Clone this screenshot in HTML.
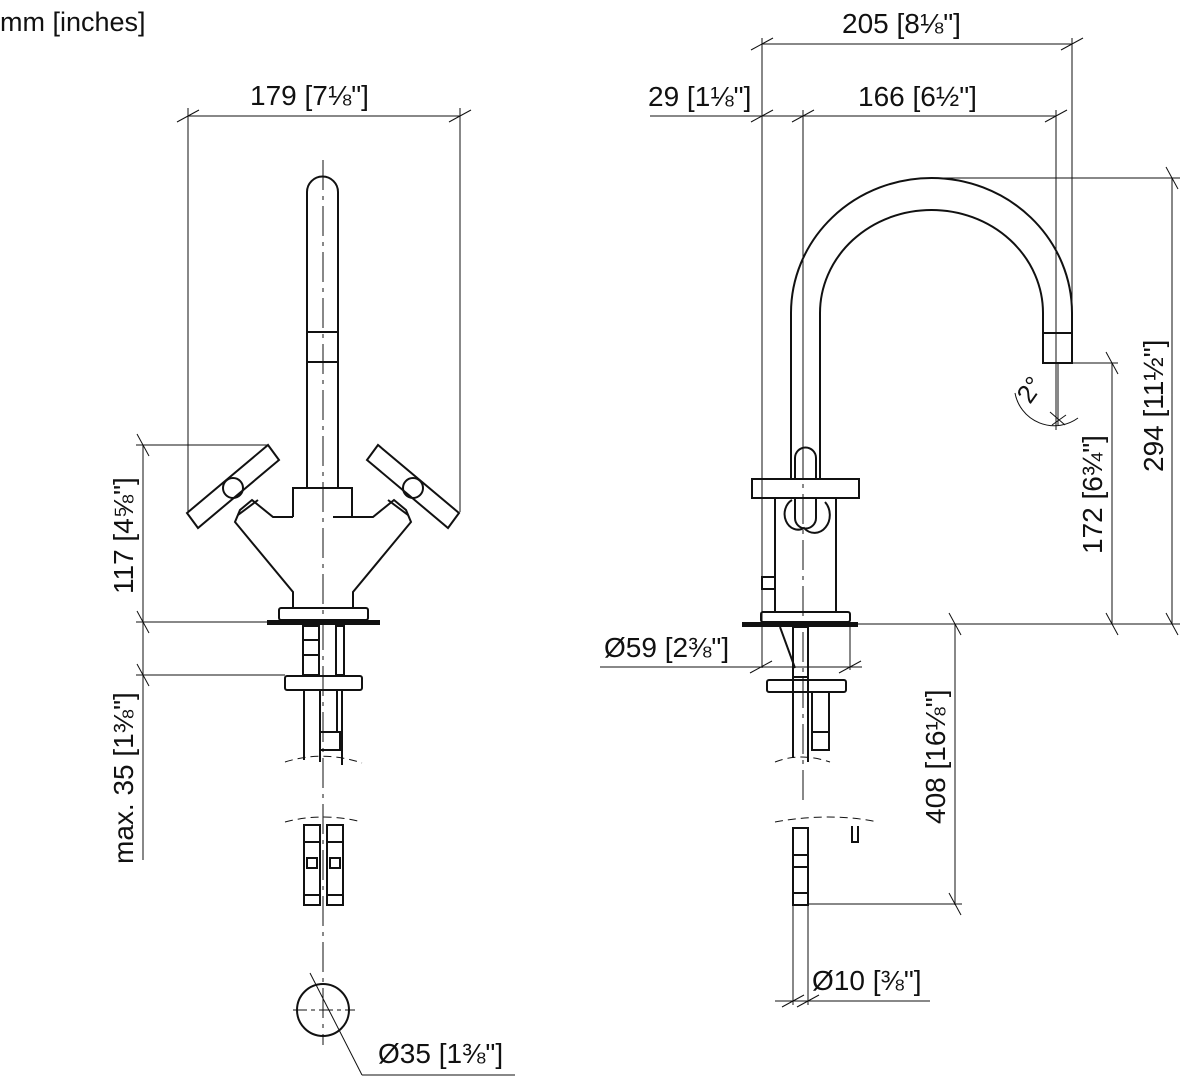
<!DOCTYPE html>
<html><head><meta charset="utf-8"><style>
html,body{margin:0;padding:0;background:#fff}
svg{display:block}
text{font-family:"Liberation Sans",sans-serif;fill:#111}
.n{font-size:28px}
</style></head><body>
<svg width="1183" height="1080" viewBox="0 0 1183 1080" xmlns="http://www.w3.org/2000/svg">
<defs>
<g id="tk"><line x1="-11" y1="6" x2="11" y2="-6" stroke="#111" stroke-width="1"/></g>
</defs>
<text x="0" y="31" style="font-size:27px">mm [inches]</text>

<g fill="none" stroke="#111" stroke-width="1">
<line x1="188" y1="116" x2="460" y2="116"/>
<line x1="188" y1="108" x2="188" y2="512"/>
<line x1="460" y1="108" x2="460" y2="512"/>
<use href="#tk" x="188" y="116"/><use href="#tk" x="460" y="116"/>
<line x1="143" y1="445" x2="143" y2="860"/>
<line x1="136" y1="445" x2="268" y2="445"/>
<line x1="136" y1="622" x2="268" y2="622"/>
<line x1="136" y1="675" x2="285" y2="675"/>
<g transform="rotate(90 143 445)"><use href="#tk" x="143" y="445"/></g>
<g transform="rotate(90 143 622)"><use href="#tk" x="143" y="622"/></g>
<g transform="rotate(90 143 675)"><use href="#tk" x="143" y="675"/></g>
</g>

<g fill="none" stroke="#111" stroke-width="2">
<path d="M307 488 V192 A15.5 15.5 0 0 1 338 192 V488"/>
<rect x="307" y="332" width="31" height="30"/>
<path d="M293 517 V488 H352 V517 L333 517"/>
<path d="M293 517 L273 517 L252 500 L240 510 L235 522 L293 592 V608"/>
<path d="M352 517 L373 517 L394 500 L406 510 L411 522 L353 592 V608"/>
<line x1="238" y1="515" x2="258" y2="500"/>
<line x1="408" y1="515" x2="388" y2="500"/>
<rect x="279" y="608" width="89" height="12" rx="2"/>
<polygon points="187,513 198,528 279,460 268,445"/>
<circle cx="233" cy="488" r="10"/>
<polygon points="459,513 448,528 367,460 378,445"/>
<circle cx="413" cy="488" r="10"/>
<rect x="303" y="626" width="16" height="49"/>
<rect x="336" y="626" width="8" height="49"/>
<line x1="303" y1="640" x2="319" y2="640"/><line x1="303" y1="655" x2="319" y2="655"/>
<rect x="285" y="676" width="77" height="14" rx="2"/>
<line x1="304" y1="690" x2="304" y2="760"/>
<line x1="342" y1="690" x2="342" y2="765"/>
<rect x="320" y="690" width="17" height="42"/>
<rect x="320" y="732" width="20" height="18"/>
<line x1="320" y1="750" x2="320" y2="762"/>
<rect x="304" y="825" width="16" height="80"/>
<rect x="327" y="825" width="16" height="80"/>
<line x1="304" y1="842" x2="320" y2="842"/><line x1="327" y1="842" x2="343" y2="842"/>
<rect x="307" y="858" width="10" height="10"/><rect x="330" y="858" width="10" height="10"/>
<line x1="304" y1="895" x2="320" y2="895"/><line x1="327" y1="895" x2="343" y2="895"/>
<circle cx="323" cy="1010" r="26"/>
</g>
<rect x="267" y="620" width="113" height="5" fill="#111"/>
<g fill="none" stroke="#111" stroke-width="1">
<path d="M285 762 Q323 750 362 763" stroke-dasharray="8 5"/>
<path d="M285 822 Q323 812 362 822" stroke-dasharray="8 5"/>
<line x1="323" y1="160" x2="323" y2="1045" stroke-dasharray="30 6 4 6"/>
<line x1="293" y1="1010" x2="355" y2="1010" stroke-dasharray="14 4 4 4"/>
<line x1="310" y1="973" x2="362" y2="1075"/>
<line x1="362" y1="1075" x2="515" y2="1075"/>
</g>

<g fill="none" stroke="#111" stroke-width="1">
<line x1="762" y1="44" x2="1072" y2="44"/>
<line x1="762" y1="38" x2="762" y2="668"/>
<line x1="1072" y1="38" x2="1072" y2="335"/>
<use href="#tk" x="762" y="44"/><use href="#tk" x="1072" y="44"/>
<line x1="650" y1="116" x2="1056" y2="116"/>
<use href="#tk" x="762" y="116"/><use href="#tk" x="803" y="116"/><use href="#tk" x="1056" y="116"/>
<line x1="803" y1="110" x2="803" y2="450"/>
<line x1="1056" y1="110" x2="1056" y2="430"/>
<line x1="940" y1="178" x2="1180" y2="178"/>
<line x1="1072" y1="363" x2="1118" y2="363"/>
<line x1="858" y1="624" x2="1180" y2="624"/>
<line x1="1172" y1="178" x2="1172" y2="624"/>
<line x1="1112" y1="363" x2="1112" y2="624"/>
<g transform="rotate(90 1172 178)"><use href="#tk" x="1172" y="178"/></g>
<g transform="rotate(90 1172 624)"><use href="#tk" x="1172" y="624"/></g>
<g transform="rotate(90 1112 363)"><use href="#tk" x="1112" y="363"/></g>
<g transform="rotate(90 1112 624)"><use href="#tk" x="1112" y="624"/></g>
<path d="M1015 393 A40 40 0 0 0 1078 418"/>
<line x1="1050" y1="412" x2="1065" y2="425"/><line x1="1052" y1="425" x2="1066" y2="415"/>
<line x1="1058" y1="363" x2="1058" y2="425"/>
<line x1="600" y1="667" x2="862" y2="667"/>
<use href="#tk" x="761" y="667"/><use href="#tk" x="850" y="667"/>
<line x1="850" y1="624" x2="850" y2="670"/>
<line x1="955" y1="624" x2="955" y2="905"/>
<line x1="808" y1="904" x2="962" y2="904"/>
<g transform="rotate(90 955 624)"><use href="#tk" x="955" y="624"/></g>
<g transform="rotate(90 955 904)"><use href="#tk" x="955" y="904"/></g>
<line x1="793" y1="905" x2="793" y2="1005"/>
<line x1="808" y1="905" x2="808" y2="1005"/>
<line x1="775" y1="1001" x2="930" y2="1001"/>
<use href="#tk" x="793" y="1001"/><use href="#tk" x="808" y="1001"/>
<line x1="803" y1="448" x2="803" y2="800" stroke-dasharray="30 6 4 6"/>
<path d="M775 762 Q800 752 830 762" stroke-dasharray="8 5"/>
<path d="M775 822 Q830 812 878 822" stroke-dasharray="8 5"/>
</g>
<g fill="none" stroke="#111" stroke-width="2">
<path d="M791 479 V313 A140.5 135 0 0 1 1072 313 V363 H1043 V313 A111.5 103 0 0 0 820 313 V479"/>
<line x1="1043" y1="333" x2="1072" y2="333"/>
<rect x="752" y="479" width="107" height="19"/>
<path d="M795 479 V458 A10.5 10.5 0 0 1 816 458 V479"/>
<path d="M795 498 V518 A10.5 10.5 0 0 0 816 518 V498"/>
<path d="M792 500 A12 14 0 0 0 804 528 A12 14 0 0 0 825 502"/>
<rect x="775" y="498" width="61" height="114"/>
<rect x="762" y="577" width="13" height="12"/>
<rect x="761" y="612" width="89" height="10" rx="2"/>
<rect x="767" y="680" width="79" height="12" rx="2"/>
<line x1="793" y1="627" x2="793" y2="758"/>
<line x1="808" y1="627" x2="808" y2="762"/>
<rect x="793" y="627" width="15" height="50"/>
<rect x="812" y="692" width="17" height="40"/>
<rect x="812" y="732" width="17" height="18"/>
<line x1="780" y1="627" x2="795" y2="668"/>
<rect x="793" y="828" width="15" height="77"/>
<rect x="793" y="855" width="15" height="12"/>
<line x1="793" y1="893" x2="808" y2="893"/>
<path d="M852 826 V842 H858 V826"/>
</g>
<rect x="742" y="622" width="116" height="5" fill="#111"/>

<text class="n" x="250" y="105">179 [7⅛"]</text>
<text class="n" x="842" y="33">205 [8⅛"]</text>
<text class="n" x="648" y="106">29 [1⅛"]</text>
<text class="n" x="858" y="106">166 [6½"]</text>
<text class="n" x="604" y="657">Ø59 [2⅜"]</text>
<text class="n" x="812" y="990">Ø10 [⅜"]</text>
<text class="n" x="378" y="1063">Ø35 [1⅜"]</text>
<text class="n" transform="translate(133 594) rotate(-90)">117 [4⅝"]</text>
<text class="n" transform="translate(133 864) rotate(-90)">max. 35 [1⅜"]</text>
<text class="n" transform="translate(1102 554) rotate(-90)">172 [6¾"]</text>
<text class="n" transform="translate(1163 472) rotate(-90)">294 [11½"]</text>
<text class="n" transform="translate(945 824) rotate(-90)">408 [16⅛"]</text>
<text style="font-size:26px" transform="translate(1030 405) rotate(-55)">2°</text>
</svg>
</body></html>
